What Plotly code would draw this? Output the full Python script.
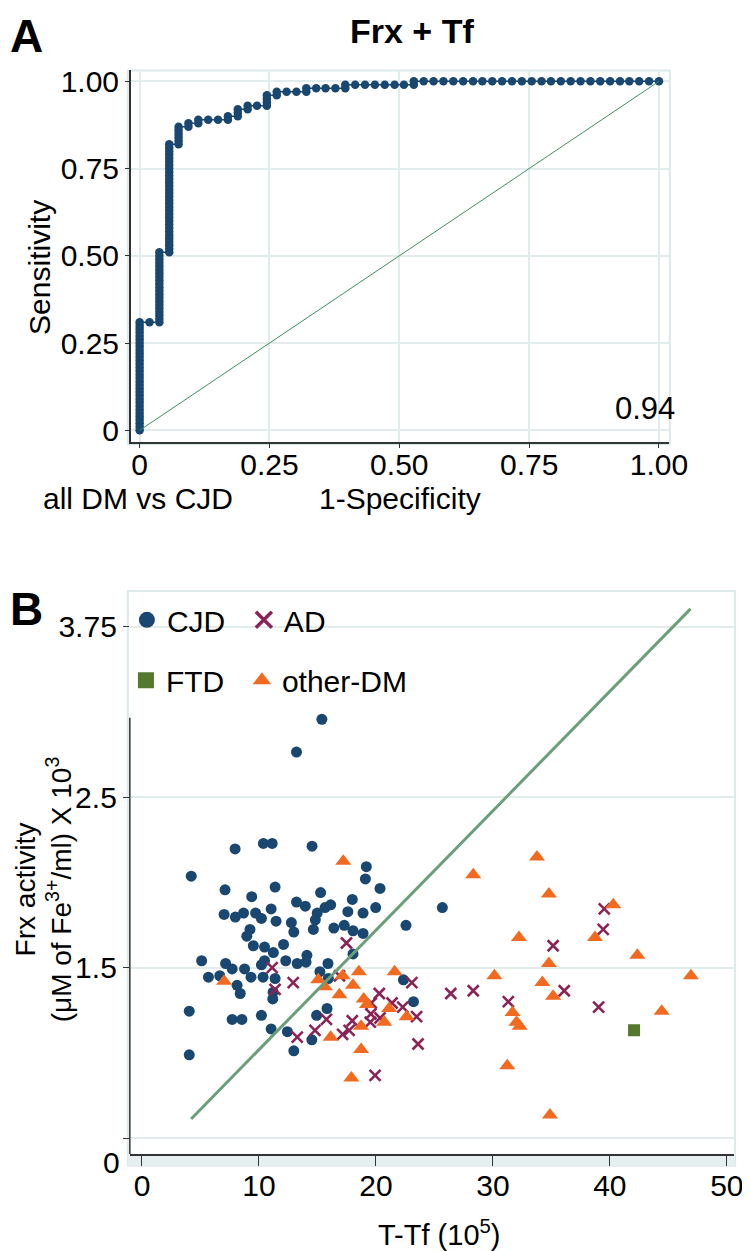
import plotly.graph_objects as go

# ---------------- Panel A : ROC curve, Frx + Tf (all DM vs CJD) ----------------
roc_points = [
    (0, 0.00), (0, 0.01), (0, 0.02), (0, 0.03), (0, 0.04), (0, 0.05), (0, 0.06), (0, 0.07),
    (0, 0.08), (0, 0.09), (0, 0.10), (0, 0.11), (0, 0.12), (0, 0.13), (0, 0.14), (0, 0.15),
    (0, 0.16), (0, 0.17), (0, 0.18), (0, 0.19), (0, 0.20), (0, 0.21), (0, 0.22), (0, 0.23),
    (0, 0.24), (0, 0.25), (0, 0.26), (0, 0.27), (0, 0.28), (0, 0.29), (0, 0.30), (0, 0.31),
    (0.019, 0.31),
    (0.038, 0.31), (0.038, 0.32), (0.038, 0.33), (0.038, 0.34), (0.038, 0.35), (0.038, 0.36),
    (0.038, 0.37), (0.038, 0.38), (0.038, 0.39), (0.038, 0.40), (0.038, 0.41), (0.038, 0.42),
    (0.038, 0.43), (0.038, 0.44), (0.038, 0.45), (0.038, 0.46), (0.038, 0.47), (0.038, 0.48),
    (0.038, 0.49), (0.038, 0.50), (0.038, 0.51),
    (0.057, 0.51), (0.057, 0.52), (0.057, 0.53), (0.057, 0.54), (0.057, 0.55), (0.057, 0.56),
    (0.057, 0.57), (0.057, 0.58), (0.057, 0.59), (0.057, 0.60), (0.057, 0.61), (0.057, 0.62),
    (0.057, 0.63), (0.057, 0.64), (0.057, 0.65), (0.057, 0.66), (0.057, 0.67), (0.057, 0.68),
    (0.057, 0.69), (0.057, 0.70), (0.057, 0.71), (0.057, 0.72), (0.057, 0.73), (0.057, 0.74),
    (0.057, 0.75), (0.057, 0.76), (0.057, 0.77), (0.057, 0.78), (0.057, 0.79), (0.057, 0.80),
    (0.057, 0.81), (0.057, 0.82),
    (0.075, 0.82), (0.075, 0.83), (0.075, 0.84), (0.075, 0.85), (0.075, 0.86), (0.075, 0.87),
    (0.094, 0.87), (0.094, 0.88), (0.113, 0.88), (0.113, 0.89), (0.132, 0.89), (0.151, 0.89),
    (0.170, 0.89), (0.170, 0.90), (0.189, 0.90), (0.189, 0.91), (0.189, 0.92), (0.208, 0.92),
    (0.208, 0.93), (0.226, 0.93), (0.245, 0.93), (0.245, 0.94), (0.245, 0.95), (0.245, 0.96),
    (0.264, 0.96), (0.264, 0.97), (0.283, 0.97), (0.302, 0.97), (0.321, 0.97), (0.321, 0.98),
    (0.340, 0.98), (0.358, 0.98), (0.377, 0.98), (0.396, 0.98), (0.396, 0.99), (0.415, 0.99),
    (0.434, 0.99), (0.453, 0.99), (0.472, 0.99), (0.491, 0.99), (0.509, 0.99), (0.528, 0.99),
    (0.528, 1.00), (0.547, 1.00), (0.566, 1.00), (0.585, 1.00), (0.604, 1.00), (0.623, 1.00),
    (0.642, 1.00), (0.660, 1.00), (0.679, 1.00), (0.698, 1.00), (0.717, 1.00), (0.736, 1.00),
    (0.755, 1.00), (0.774, 1.00), (0.792, 1.00), (0.811, 1.00), (0.830, 1.00), (0.849, 1.00),
    (0.868, 1.00), (0.887, 1.00), (0.906, 1.00), (0.925, 1.00), (0.943, 1.00), (0.962, 1.00),
    (0.981, 1.00), (1.000, 1.00),
]
ref_x = [0, 1]
ref_y = [0, 1]
auc_text = "0.94"
a_ticks = [0, 0.25, 0.5, 0.75, 1.0]
a_ticktext = ["0", "0.25", "0.50", "0.75", "1.00"]

# ---------------- Panel B : Frx activity vs T-Tf ----------------
cjd_x = [15.38, 13.21, 7.96, 10.38, 11.13, 14.54, 4.21, 19.18, 19.10, 7.10,
         9.38, 11.38, 15.27, 20.35, 17.98, 7.02, 7.98, 8.68, 9.71, 10.21,
         11.04, 11.46, 13.21, 13.96, 14.98, 15.65, 16.13, 17.60, 18.90, 19.98,
         25.68, 22.57, 8.96, 9.23, 9.52, 10.48, 12.10, 12.77, 12.98, 14.65,
         14.82, 16.40, 17.29, 18.04, 18.90, 18.04, 5.10, 11.23, 12.29, 13.27,
         14.10, 14.02, 15.21, 15.90, 7.15, 7.71, 5.68, 6.65, 8.77, 9.32,
         10.21, 10.48, 10.35, 8.13, 8.40, 11.21, 11.18, 15.93, 22.35, 23.21,
         15.82, 4.04, 7.71, 8.54, 10.21, 14.93, 12.43, 14.52, 12.98, 11.04,
         11.38, 4.04]
cjd_y = [3.07, 2.83, 2.12, 2.16, 2.16, 2.14, 1.92, 1.99, 1.90, 1.82,
         1.77, 1.84, 1.80, 1.83, 1.75, 1.64, 1.62, 1.65, 1.65, 1.61,
         1.68, 1.59, 1.73, 1.70, 1.65, 1.69, 1.71, 1.66, 1.65, 1.69,
         1.69, 1.56, 1.48, 1.53, 1.41, 1.40, 1.42, 1.58, 1.51, 1.53,
         1.60, 1.54, 1.56, 1.52, 1.50, 1.35, 1.30, 1.36, 1.30, 1.28,
         1.34, 1.29, 1.22, 1.28, 1.28, 1.24, 1.18, 1.19, 1.24, 1.18,
         1.27, 1.30, 1.18, 1.12, 1.06, 1.07, 1.02, 1.17, 1.16, 1.00,
         0.95, 0.93, 0.87, 0.87, 0.90, 0.90, 0.78, 0.72, 0.64, 0.80,
         1.17, 0.61]

ad_x = [17.48, 11.13, 12.93, 11.38, 16.88, 15.77, 17.98, 14.79, 13.27, 17.15,
        17.71, 19.57, 19.52, 20.35, 19.60, 20.29, 21.38, 22.29, 23.07, 23.48,
        23.60, 19.93, 26.40, 28.32, 31.32, 35.15, 36.10, 39.52, 39.43, 39.04]
ad_y = [1.43, 1.25, 1.14, 1.09, 1.19, 0.87, 0.86, 0.79, 0.74, 0.76,
        0.79, 0.91, 0.85, 0.88, 0.99, 1.06, 0.99, 0.96, 1.14, 0.89,
        0.69, 0.46, 1.06, 1.08, 1.00, 1.41, 1.08, 1.68, 1.53, 0.96]

ftd_x = [42.07]
ftd_y = [0.79]

oth_x = [7.02, 17.21, 15.07, 15.63, 17.15, 18.54, 18.04, 16.88, 18.96, 19.23,
         18.73, 16.13, 18.73, 17.90, 21.60, 21.13, 20.71, 22.63, 33.77, 28.32,
         34.79, 40.29, 32.23, 38.73, 42.35, 34.79, 30.13, 34.23, 35.15, 46.93,
         31.68, 32.02, 32.29, 44.43, 31.23, 34.88]
oth_y = [1.15, 2.03, 1.16, 1.11, 1.19, 1.22, 1.12, 1.05, 1.02, 0.98,
         0.82, 0.74, 0.65, 0.44, 1.22, 0.95, 0.85, 0.89, 2.06, 1.93,
         1.79, 1.71, 1.47, 1.47, 1.34, 1.28, 1.19, 1.14, 1.04, 1.19,
         0.92, 0.85, 0.82, 0.93, 0.53, 0.17]

fit_x = [4.2, 46.9]
fit_y = [0.14, 3.88]

b_xticks = [0, 10, 20, 30, 40, 50]
b_yticks = [0, 1.25, 2.5, 3.75]
b_yticktext = ["", "1.5", "2.5", "3.75"]

# ---------------- styling ----------------
W, H = 750, 1251
FONT = "Liberation Sans, Arial, sans-serif"
NAVY = "#1a476f"
MAROON = "#8a2456"
FOREST = "#55782f"
ORANGE = "#f26a1f"
GRID = "#e2ecec"
BORDER = "#dde9e9"
AXIS = "#333333"


def px_x(p):
    return p / W


def px_y(p):
    return 1 - p / H


fig = go.Figure()

# Panel A
fig.add_trace(go.Scatter(
    x=[p[0] for p in roc_points], y=[p[1] for p in roc_points],
    mode="lines+markers", xaxis="x", yaxis="y", showlegend=False,
    line=dict(color=NAVY, width=1.5),
    marker=dict(size=8.5, color=NAVY)))
fig.add_trace(go.Scatter(
    x=ref_x, y=ref_y, mode="lines", xaxis="x", yaxis="y", showlegend=False,
    line=dict(color="#3f8f5e", width=1)))

# Panel B data
styles = {
    "CJD": dict(symbol="circle", size=11, color=NAVY),
    "AD": dict(symbol="x-thin-open", size=11, color=MAROON,
               line=dict(width=2.6, color=MAROON)),
    "FTD": dict(symbol="square", size=12, color=FOREST),
    "other-DM": dict(symbol="triangle-up", size=14, color=ORANGE),
}
series = [("CJD", cjd_x, cjd_y), ("AD", ad_x, ad_y),
          ("FTD", ftd_x, ftd_y), ("other-DM", oth_x, oth_y)]
for name, xs, ys in series:
    fig.add_trace(go.Scatter(x=xs, y=ys, mode="markers", name=name,
                             xaxis="x2", yaxis="y2", showlegend=False,
                             marker=styles[name]))
fig.add_trace(go.Scatter(
    x=fit_x, y=fit_y, mode="lines", xaxis="x2", yaxis="y2", showlegend=False,
    line=dict(color="#6a9f78", width=3)))

# legend entries (one legend box each, laid out as in the original 2x2 key)
legend_boxes = {"CJD": "legend", "AD": "legend2", "FTD": "legend3", "other-DM": "legend4"}
for name, _, _ in series:
    st = dict(styles[name])
    st["size"] = 18
    if name == "AD":
        st["line"] = dict(width=3.5, color=MAROON)
    fig.add_trace(go.Scatter(x=[None], y=[None], mode="markers", name=name,
                             xaxis="x2", yaxis="y2", showlegend=True,
                             legend=legend_boxes[name], marker=st))

tickfont = dict(family=FONT, size=30, color="black")

axis_common = dict(
    showgrid=True, gridcolor=GRID, gridwidth=1.5, zeroline=False,
    ticks="outside", tickwidth=1.2, tickcolor=AXIS,
    tickfont=tickfont, showline=True, linecolor=AXIS, linewidth=1.5,
)

legend_font = dict(family=FONT, size=30, color="black")


def legend_at(x, ytop):
    return dict(x=px_x(x), y=px_y(ytop), xanchor="left", yanchor="top",
                orientation="h", font=legend_font, bgcolor="rgba(0,0,0,0)",
                itemwidth=30)


fig.update_layout(
    width=W, height=H,
    margin=dict(l=0, r=0, t=0, b=0),
    paper_bgcolor="white", plot_bgcolor="rgba(0,0,0,0)",
    font=dict(family=FONT, color="black"),
    xaxis=dict(axis_common, domain=[px_x(126), px_x(678)], range=[-0.017, 1.019],
               tickvals=a_ticks, ticktext=a_ticktext, anchor="y",
               ticklen=4, ticklabelstandoff=-9),
    yaxis=dict(axis_common, domain=[px_y(432), px_y(57)], range=[-0.034, 1.031],
               tickvals=a_ticks, ticktext=a_ticktext, anchor="x", ticklen=4),
    xaxis2=dict(axis_common, domain=[px_x(125), px_x(745)], range=[-1.04, 50.625],
                tickvals=b_xticks, showgrid=False, anchor="y2", ticklen=10,
                ticklabelstandoff=-6),
    yaxis2=dict(axis_common, domain=[px_y(1150), px_y(582)], range=[-0.116, 4.012],
                tickvals=b_yticks, ticktext=b_yticktext, showline=False, anchor="x2",
                ticklen=6),
    legend=legend_at(122, 585),
    legend2=legend_at(242, 585),
    legend3=legend_at(121, 646),
    legend4=legend_at(240, 646),
)

shapes = [
    # light plot-region frames
    dict(type="rect", xref="paper", yref="paper", x0=px_x(123), x1=px_x(679),
         y0=px_y(434), y1=px_y(57), line=dict(color=BORDER, width=2), layer="below"),
    dict(type="rect", xref="paper", yref="paper", x0=px_x(123), x1=px_x(746),
         y0=px_y(1162), y1=px_y(582), line=dict(color=BORDER, width=2), layer="below"),
    dict(type="rect", xref="paper", yref="paper", x0=px_x(123), x1=px_x(746),
         y0=px_y(1162), y1=px_y(1150), line=dict(width=0), fillcolor="#e6efef",
         layer="below"),
    # panel B y axis line (partial, as in original)
    dict(type="line", xref="x2 domain", yref="y2 domain", x0=0, x1=0,
         y0=0, y1=(1150 - 710) / (1150 - 582), line=dict(color=AXIS, width=1.5)),
]
fig.update_layout(shapes=shapes)

ann = [
    dict(text="<b>A</b>", x=0, y=px_y(22), xanchor="left", yanchor="middle",
         font=dict(size=46)),
    dict(text="<b>Frx + Tf</b>", x=px_x(414), y=px_y(17), xanchor="center",
         yanchor="middle", font=dict(size=34)),
    dict(text="Sensitivity", x=px_x(33), y=px_y(256), textangle=-90,
         xanchor="center", yanchor="middle", font=dict(size=30)),
    dict(text=auc_text, x=px_x(686), y=px_y(398), xanchor="right",
         yanchor="middle", font=dict(size=31)),
    dict(text="all DM vs CJD", x=px_x(34), y=px_y(489), xanchor="left",
         yanchor="middle", font=dict(size=30)),
    dict(text="1-Specificity", x=px_x(402), y=px_y(489), xanchor="center",
         yanchor="middle", font=dict(size=30)),
    dict(text="<b>B</b>", x=0, y=px_y(600), xanchor="left", yanchor="middle",
         font=dict(size=46)),
    dict(text="0", x=px_x(117), y=px_y(1159), xanchor="right", yanchor="middle",
         font=dict(size=30)),
    dict(text="Frx activity<br>(\u03bcM of Fe<sup>3+</sup>/ml) X 10<sup>3</sup>",
         x=px_x(36), y=px_y(883), textangle=-90, xanchor="center", yanchor="middle",
         font=dict(size=28)),
    dict(text="T-Tf (10<sup>5</sup>)", x=px_x(442), y=px_y(1230), xanchor="center",
         yanchor="middle", font=dict(size=29)),
]
for a in ann:
    a.update(xref="paper", yref="paper", showarrow=False)
    a["font"] = dict(family=FONT, color="black", **a["font"])
fig.update_layout(annotations=ann)

fig.write_html("out.html")
